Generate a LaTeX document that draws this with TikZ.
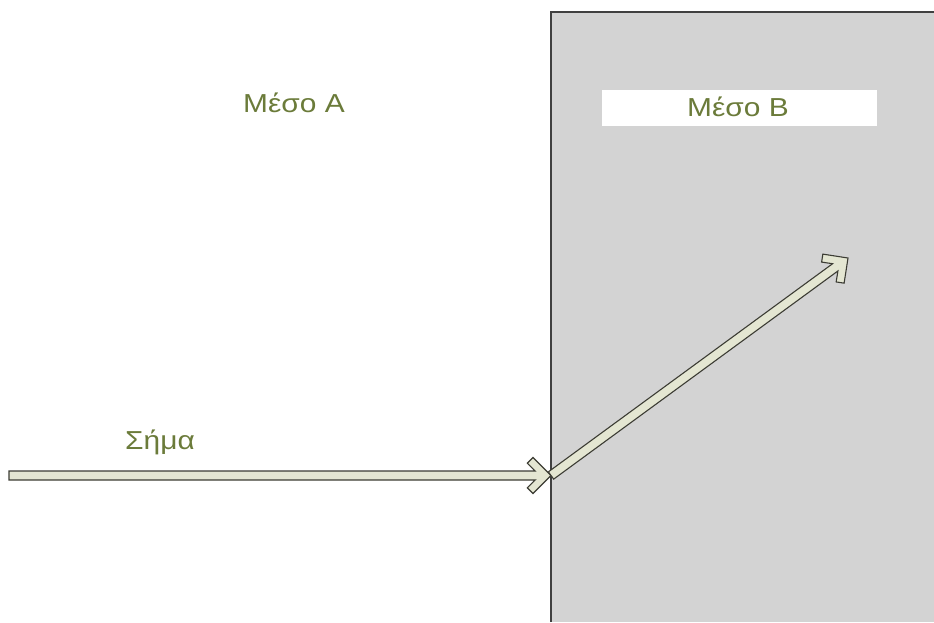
\documentclass[tikz,border=0pt]{standalone}
\usepackage{fontspec}
\setmainfont{Liberation Sans}
\usetikzlibrary{calc}

\definecolor{mediumgray}{HTML}{D3D3D3}
\definecolor{edgegray}{HTML}{404040}
\definecolor{beamfill}{HTML}{E4E6D2}
\definecolor{beamedge}{HTML}{3C3C34}
\definecolor{mediumtext}{HTML}{6B7B3A}

% hollow arrow: shaft of length #1 ending in an open chevron at the origin
\tikzset{
	pics/beam/.style={code={
		\filldraw[fill=beamfill, draw=beamedge, line width=1.1pt, line join=miter]
			(-#1,4.5) -- (-15.8,4.5) -- (-23.7,12.3) -- (-18,18) -- (0,0)
			-- (-18,-18) -- (-23.7,-12.3) -- (-15.8,-4.5) -- (-#1,-4.5) -- cycle;
	}}
}
\newcommand\beamarrow[2]{%
	\path let \p1=($(#2)-(#1)$), \n1={atan2(\y1,\x1)}, \n2={veclen(\x1,\y1)}
		in (#2) pic[rotate=\n1] {beam=\n2};}

\begin{document}
\begin{tikzpicture}[x=1pt, y=-1pt,
	mediumname/.style={text=mediumtext, font=\fontsize{26}{30}\selectfont\addfontfeature{FakeStretch=1.15}, inner sep=0pt, anchor=base}]
	\useasboundingbox (0,0) rectangle (934,622);
	% second medium
	\fill[mediumgray] (551,12) rectangle (934,622);
	\draw[edgegray, line width=1.5pt] (551,622) |- (934,12);
	\fill[white] (602,90) rectangle (877,126);
	% labels
	\node[mediumname] (mesoA) at (294,112) {Μέσο Α};
	\node[mediumname] (mesoB) at (738,116) {Μέσο Β};
	\node[mediumname] (sima) at (160,449) {Σήμα};
	% signal path
	\coordinate (start) at (9,475.5);
	\coordinate (hit) at (551,475.5);
	\coordinate (out) at (848,258);
	\beamarrow{start}{hit}
	\beamarrow{hit}{out}
\end{tikzpicture}
\end{document}
